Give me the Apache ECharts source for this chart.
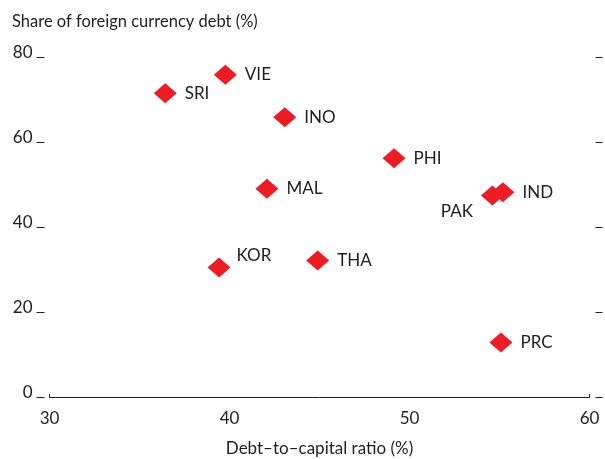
<!DOCTYPE html>
<html><head><meta charset="utf-8">
<script src="https://cdn.jsdelivr.net/npm/echarts@6/dist/echarts.min.js"></script>
<style>html,body{margin:0;padding:0;background:#fff}#c{width:605px;height:459px}</style>
</head><body><div id="c"></div>
<script>
const economies = ['SRI','VIE','INO','PHI','MAL','PAK','IND','KOR','THA','PRC'];
const debtToCapital = [36.43, 39.77, 43.07, 49.14, 42.08, 54.61, 55.19, 39.42, 44.9, 55.08];
const foreignShare = [71.5, 75.8, 65.8, 56.2, 49.0, 47.4, 48.2, 30.5, 32.1, 12.8];
const xTicks = [30, 40, 50, 60];
const yTicks = [0, 20, 40, 60, 80];
const xTitle = 'Debt–to–capital ratio (%)';
const yTitle = 'Share of foreign currency debt (%)';

const FONT = 'Lato';
const TXT = '#1e1e1e';
const RED = '#ed1c24';

const labelPos = {
  PAK: {position: 'left', distance: 8, offset: [0, 16]},
  KOR: {position: 'right', distance: 6, offset: [0, -12]}
};

const data = economies.map((n, i) => {
  const d = {name: n, value: [debtToCapital[i], foreignShare[i]]};
  if (labelPos[n]) d.label = labelPos[n];
  return d;
});

const chart = echarts.init(document.getElementById('c'), null, {renderer: 'canvas'});
chart.setOption({
  animation: false,
  backgroundColor: '#fff',
  title: {
    text: yTitle, left: 12, top: 13, padding: 0,
    textStyle: {fontFamily: FONT, fontSize: 16.5, fontWeight: 'normal', color: TXT}
  },
  grid: {left: 49.5, right: 15.5, top: 57, bottom: 62, containLabel: false, outerBoundsMode: 'none'},
  xAxis: {
    type: 'value', min: xTicks[0], max: xTicks[xTicks.length - 1], interval: 10,
    name: xTitle, nameLocation: 'middle', nameGap: 43,
    nameTextStyle: {fontFamily: FONT, fontSize: 17, color: TXT},
    axisLine: {show: true, lineStyle: {color: TXT, width: 1}},
    axisTick: {show: true, inside: true, length: 3, customValues: [xTicks[0], xTicks[xTicks.length - 1]], lineStyle: {color: TXT}},
    axisLabel: {fontFamily: FONT, fontSize: 17, color: TXT, margin: 13},
    splitLine: {show: false}
  },
  yAxis: [{
    type: 'value', min: yTicks[0], max: yTicks[yTicks.length - 1], interval: 20,
    offset: 5,
    axisLine: {show: false},
    axisTick: {show: true, length: 8, lineStyle: {color: TXT}},
    axisLabel: {fontFamily: FONT, fontSize: 17, color: TXT, margin: 12, verticalAlign: 'bottom', lineHeight: 17, padding: [0, 0, -4, 0]},
    splitLine: {show: false}
  }, {
    type: 'value', position: 'right', min: yTicks[0], max: yTicks[yTicks.length - 1], interval: 20,
    offset: 6,
    axisLine: {show: false},
    axisTick: {show: true, length: 7, lineStyle: {color: TXT}},
    axisLabel: {show: false},
    splitLine: {show: false}
  }],
  series: [{
    type: 'scatter',
    symbol: 'diamond',
    symbolSize: [23, 20],
    itemStyle: {color: RED, opacity: 1},
    label: {
      show: true, position: 'right', distance: 8,
      formatter: p => p.name,
      fontFamily: FONT, fontSize: 17, color: TXT
    },
    data: data
  }]
});
</script></body></html>
